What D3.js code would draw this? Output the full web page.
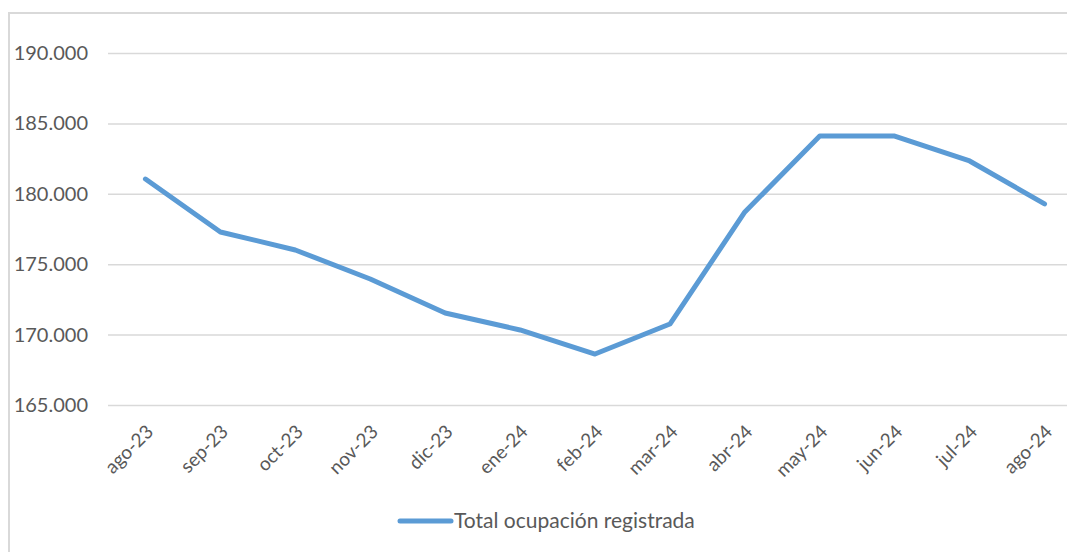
<!DOCTYPE html>
<html>
<head>
<meta charset="utf-8">
<script src="https://cdn.jsdelivr.net/npm/d3@7"></script>
<style>
  body { margin: 0; background: #fff; }
  svg text { font-family: Lato, "Open Sans", sans-serif; fill: #595959; }
  .grid line { stroke: #d9d9d9; stroke-width: 1.5; }
</style>
</head>
<body>
<svg id="chart"></svg>
<script>
// months shown on the x axis
const months = ['ago-23', 'sep-23', 'oct-23', 'nov-23', 'dic-23', 'ene-24', 'feb-24',
  'mar-24', 'abr-24', 'may-24', 'jun-24', 'jul-24', 'ago-24']

// Total ocupación registrada
const ocupacion = [181050, 177290, 176010, 173950, 171530, 170330, 168620,
  170750, 178710, 184100, 184100, 182330, 179280]

const yTicks = [165000, 170000, 175000, 180000, 185000, 190000]
const seriesName = 'Total ocupación registrada'

const width = 1067, height = 552
const lineColor = '#5b9bd5'

const svg = d3.select('svg#chart')
  .attr('width', width)
  .attr('height', height)

// chart frame (cropped at right / bottom in the reference)
svg.append('rect')
  .attr('x', 9).attr('y', 13)
  .attr('width', width + 20).attr('height', height + 20)
  .attr('fill', 'none')
  .attr('stroke', '#d9d9d9')
  .attr('stroke-width', 2)

const margin = { top: 53, left: 108 }
const plotW = 974, plotH = 352

const x = d3.scaleBand()
  .domain(months)
  .range([margin.left, margin.left + plotW])

const y = d3.scaleLinear()
  .domain([165000, 190000])
  .range([margin.top + plotH, margin.top])

const fmt = d => d3.format(',')(d).replace(/,/g, '.')

// horizontal gridlines + y labels
const yAxis = d3.axisLeft(y)
  .tickValues(yTicks)
  .tickSize(-plotW)
  .tickPadding(20)
  .tickFormat(fmt)

const yAxisG = svg.append('g')
  .attr('class', 'grid')
  .attr('transform', `translate(${margin.left},0)`)
  .call(yAxis)
yAxisG.select('.domain').remove()
yAxisG.selectAll('text')
  .attr('font-size', 20)
  .attr('fill', '#595959')

// x labels, rotated
const xAxis = d3.axisBottom(x).tickSize(0).tickPadding(0)
const xAxisG = svg.append('g')
  .attr('transform', `translate(0,${margin.top + plotH})`)
  .call(xAxis)
xAxisG.select('.domain').remove()
xAxisG.selectAll('text')
  .attr('font-size', 19)
  .attr('fill', '#595959')
  .attr('text-anchor', 'end')
  .attr('dy', null)
  .attr('y', 0)
  .attr('transform', 'translate(9,28) rotate(-45)')

// the series line
const lineGen = d3.line()
  .x((d, i) => x(months[i]) + x.bandwidth() / 2)
  .y(d => y(d))

svg.append('path')
  .datum(ocupacion)
  .attr('d', lineGen)
  .attr('fill', 'none')
  .attr('stroke', lineColor)
  .attr('stroke-width', 5)
  .attr('stroke-linejoin', 'round')
  .attr('stroke-linecap', 'round')

// legend
const legend = svg.append('g').attr('transform', 'translate(398,521)')
legend.append('line')
  .attr('x1', 2).attr('x2', 53)
  .attr('stroke', lineColor)
  .attr('stroke-width', 5)
  .attr('stroke-linecap', 'round')
legend.append('text')
  .attr('x', 56)
  .attr('dy', '0.35em')
  .attr('font-size', 21)
  .text(seriesName)
</script>
</body>
</html>
